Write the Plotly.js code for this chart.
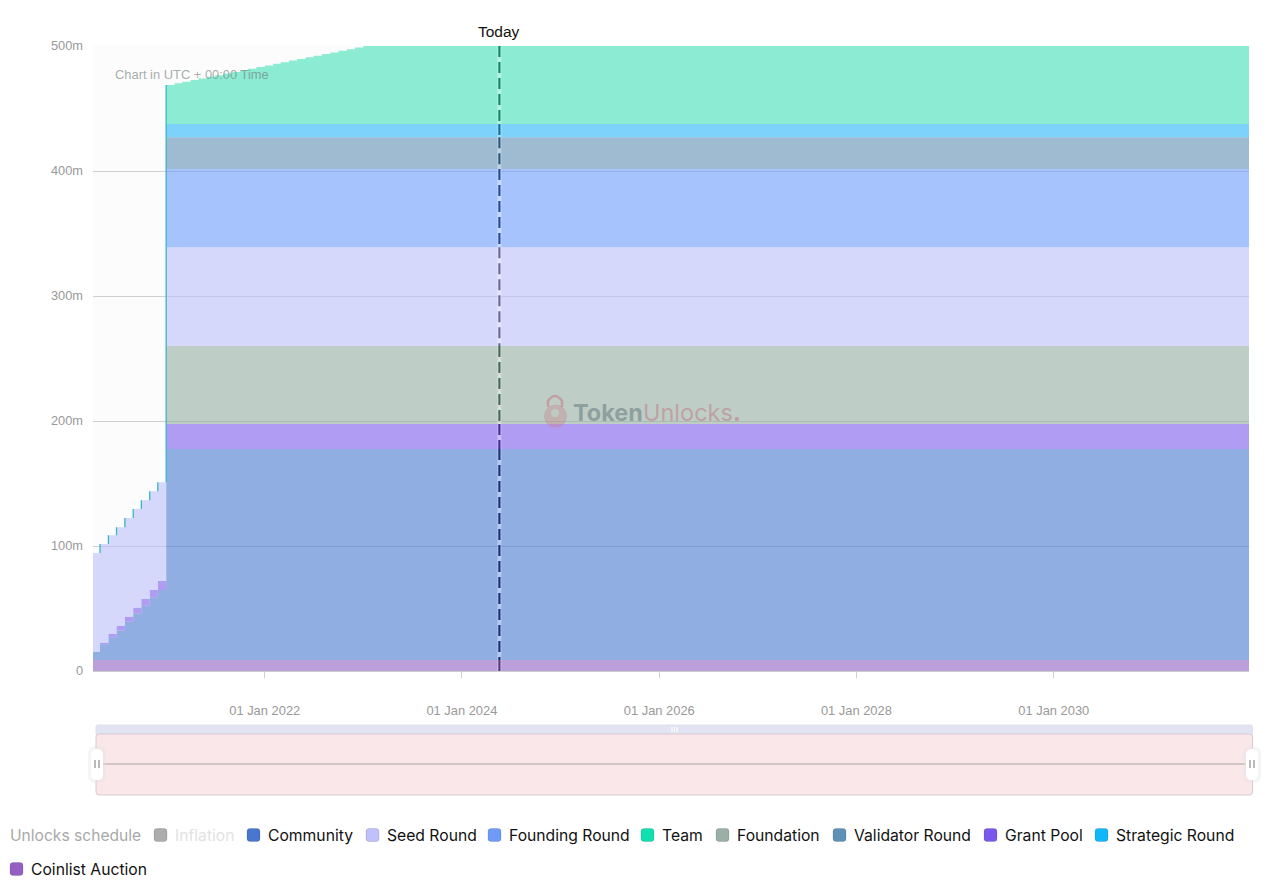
<!DOCTYPE html>
<html>
<head>
<meta charset="utf-8">
<script src="https://cdn.plot.ly/plotly-3.0.1.min.js"></script>
<style>html,body{margin:0;padding:0;background:#fff}#chart{width:1272px;height:888px}</style>
</head>
<body>
<div id="chart"></div>
<script>
const dates = ["2020-04-01","2020-05-01","2020-06-01","2020-07-01","2020-08-01","2020-09-01","2020-10-01","2020-11-01","2020-12-01",
"2021-01-01","2021-02-01","2021-03-01","2021-04-01","2021-05-01","2021-06-01","2021-07-01","2021-08-01","2021-09-01","2021-10-01","2021-11-01","2021-12-01",
"2022-01-01","2022-02-01","2022-03-01","2022-04-01","2022-05-01","2022-06-01","2022-07-01","2022-08-01","2022-09-01","2022-10-01","2022-11-01","2022-12-01",
"2023-01-01","2032-01-01"];

const coinlist = [8.8,8.8,8.8,8.8,8.8,8.8,8.8,8.8,8.8,8.8,8.8,8.8,8.8,8.8,8.8,8.8,8.8,8.8,8.8,8.8,8.8,8.8,8.8,8.8,8.8,8.8,8.8,8.8,8.8,8.8,8.8,8.8,8.8,8.8,8.8];
const community = [6.7,12.6,18.2,23.7,30.7,37.3,43.5,50.2,56,168.8,168.8,168.8,168.8,168.8,168.8,168.8,168.8,168.8,168.8,168.8,168.8,168.8,168.8,168.8,168.8,168.8,168.8,168.8,168.8,168.8,168.8,168.8,168.8,168.8,168.8];
const grantPool = [0,1.3,2.6,3.5,4,4.5,5.3,5.8,7.2,20,20,20,20,20,20,20,20,20,20,20,20,20,20,20,20,20,20,20,20,20,20,20,20,20,20];
const foundation = [0,0,0,0,0,0,0,0,0,62.4,62.4,62.4,62.4,62.4,62.4,62.4,62.4,62.4,62.4,62.4,62.4,62.4,62.4,62.4,62.4,62.4,62.4,62.4,62.4,62.4,62.4,62.4,62.4,62.4,62.4];
const seedRound = [79,79,79,79,79,79,79,79,79,79,79,79,79,79,79,79,79,79,79,79,79,79,79,79,79,79,79,79,79,79,79,79,79,79,79];
const foundingRound = [0,0,0,0,0,0,0,0,0,62.6,62.6,62.6,62.6,62.6,62.6,62.6,62.6,62.6,62.6,62.6,62.6,62.6,62.6,62.6,62.6,62.6,62.6,62.6,62.6,62.6,62.6,62.6,62.6,62.6,62.6];
const validatorRound = [0,0,0,0,0,0,0,0,0,25.4,25.4,25.4,25.4,25.4,25.4,25.4,25.4,25.4,25.4,25.4,25.4,25.4,25.4,25.4,25.4,25.4,25.4,25.4,25.4,25.4,25.4,25.4,25.4,25.4,25.4];
const strategicRound = [0,0,0,0,0,0,0,0,0,10.6,10.6,10.6,10.6,10.6,10.6,10.6,10.6,10.6,10.6,10.6,10.6,10.6,10.6,10.6,10.6,10.6,10.6,10.6,10.6,10.6,10.6,10.6,10.6,10.6,10.6];
const team = [0,0,0,0,0,0,0,0,0,31.3,32.6,33.9,35.2,36.5,37.8,39.1,40.4,41.7,43,44.3,45.6,46.9,48.2,49.5,50.8,52.1,53.4,54.7,56,57.3,58.6,59.9,61.2,62.4,62.4];

const tickDates = ["2022-01-01","2024-01-01","2026-01-01","2028-01-01","2030-01-01"];
const tickLabels = ["01 Jan 2022","01 Jan 2024","01 Jan 2026","01 Jan 2028","01 Jan 2030"];
const yTicks = [0,100,200,300,400,500];
const yLabels = ["0","100m","200m","300m","400m","500m"];
const todayDate = "2024-05-19";

const stackNames = ["Coinlist Auction","Community","Grant Pool","Foundation","Seed Round","Founding Round","Validator Round","Strategic Round","Team"];
const stackValues = [coinlist,community,grantPool,foundation,seedRound,foundingRound,validatorRound,strategicRound,team];
const stackColors = ["#8e61c5","#4a7ad2","#7f5cee","#94afa3","#bbbefa","#6e9cfd","#5f8fb6","#26b6f8","#3fe0b8"];
const lineColors = ["#5a3a80","#1e3278","#46309a","#4a6a5c","#6c6c9c","#2a4c9c","#2f5a80","#14709c","#128a6e"];

const legendNames = ["Inflation","Community","Seed Round","Founding Round","Team","Foundation","Validator Round","Grant Pool","Strategic Round","Coinlist Auction"];
const legendColors = ["#acacac","#4a76d0","#c0c0fa","#6e9bf8","#10e0b0","#9ab0a6","#5f90b6","#7a58ee","#10b8fa","#9460c4"];
const legendLeft = [154,247,366,488,641,716,833,984,1095,10];
const legendRow = [835,835,835,835,835,835,835,835,835,869];

function rgba(hex,a){const n=parseInt(hex.slice(1),16);return `rgba(${n>>16},${(n>>8)&255},${n&255},${a})`;}
const PL=93,PT=46,PW=1156,PH=625;
const px=x=>(x-PL)/PW, py=y=>(PT+PH-y)/PH;

function rr(x0,y0,x1,y1,r){
  const X=px,Y=py,rx=r/PW,ry=r/PH,a=X(x0),b=X(x1),c=Y(y0),d=Y(y1);
  return `M${a+rx},${c} L${b-rx},${c} Q${b},${c} ${b},${c-ry} L${b},${d+ry} Q${b},${d} ${b-rx},${d} L${a+rx},${d} Q${a},${d} ${a},${d+ry} L${a},${c-ry} Q${a},${c} ${a+rx},${c} Z`;
}
function box(x0,y0,x1,y1,r,fill,line,lw){
  return {type:"path",xref:"paper",yref:"paper",path:rr(x0,y0,x1,y1,r),fillcolor:fill,line:{color:line||"rgba(0,0,0,0)",width:lw||0},layer:"above"};
}
function seg(x0,y0,x1,y1,color,w){
  return {type:"line",xref:"paper",yref:"paper",x0:px(x0),x1:px(x1),y0:py(y0),y1:py(y1),line:{color:color,width:w||1},layer:"above"};
}

const traces = stackNames.map((name,i)=>({
  type:"scatter",mode:"lines",name:name,x:dates,y:stackValues[i],
  stackgroup:"unlocks",fill:"tonexty",
  line:{shape:"hv",width:0,color:stackColors[i]},
  fillcolor:rgba(stackColors[i],0.6),
  hoverinfo:"skip",showlegend:false
}));

// teal risers on the cliff and monthly steps, taken from the stacked totals
const riserX=[],riserY=[];
function below(i,top){let s=0;for(let k=0;k<=top;k++)s+=stackValues[k][i];return s;}
for(let i=1;i<=8;i++){riserX.push(dates[i],dates[i],null);riserY.push(below(i-1,4),below(i,4),null);}
riserX.push(dates[9],dates[9]);riserY.push(below(8,4),below(9,8));
traces.push({type:"scatter",mode:"lines",x:riserX,y:riserY,line:{color:"#35b6cc",width:1.3},hoverinfo:"skip",showlegend:false,connectgaps:false});

const shapes=[];
// pale halo behind the Today line
shapes.push({type:"line",xref:"x",yref:"y",x0:todayDate,x1:todayDate,y0:0,y1:500,line:{color:"rgba(255,255,255,0.35)",width:4},layer:"above"});
// Today line, one piece per band so it tints with the fill underneath
let base=0;
stackValues.forEach((s,i)=>{
  const v=s[s.length-1];
  shapes.push({type:"line",xref:"x",yref:"y",x0:todayDate,x1:todayDate,y0:base+v,y1:base,
    line:{color:lineColors[i],width:2.2,dash:"11px,5px"},layer:"above"});
  base+=v;
});

// range slider strip
shapes.push(box(96,725,1252.5,736,2,"#e2e4f4","#dfe1f0",1));
shapes.push(box(96,734,1252.5,795,3,"#fae7ea","#d9c9cd",1));
shapes.push(seg(100,764,1250,764,"#a8a2a4",1));
shapes.push(seg(672,727,672,732,"#ffffff",1),seg(674.5,727,674.5,732,"#ffffff",1),seg(677,727,677,732,"#ffffff",1));
[97,1252].forEach(c=>{
  shapes.push(box(c-9,746,c+9,783,8,"rgba(225,225,225,0.35)"));
  shapes.push(box(c-6,749,c+6,780,6,"#ffffff"));
  shapes.push(seg(c-2,760,c-2,768,"#a8a8a8",1.6),seg(c+2,760,c+2,768,"#a8a8a8",1.6));
});

// watermark padlock
shapes.push({type:"circle",xref:"paper",yref:"paper",x0:px(544.5),x1:px(566.5),y0:py(405),y1:py(427.5),
  fillcolor:"rgba(200,120,130,0.33)",line:{color:"rgba(190,140,170,0.35)",width:1},layer:"above"});
shapes.push({type:"path",xref:"paper",yref:"paper",
  path:`M${px(548)},${py(407)} L${px(548)},${py(401)} Q${px(555)},${py(391)} ${px(562)},${py(401)} L${px(562)},${py(407)}`,
  fillcolor:"rgba(0,0,0,0)",line:{color:"rgba(200,120,130,0.55)",width:2.6},layer:"above"});
shapes.push({type:"circle",xref:"paper",yref:"paper",x0:px(551),x1:px(559),y0:py(409),y1:py(417),
  fillcolor:"rgba(190,205,198,0.9)",line:{width:0},layer:"above"});

// legend swatches
legendNames.forEach((n,i)=>{
  shapes.push(box(legendLeft[i],legendRow[i]-6.5,legendLeft[i]+13,legendRow[i]+6.5,3,legendColors[i],"rgba(0,0,0,0.12)",1));
});

const annotations=[
  {xref:"x",yref:"paper",x:todayDate,y:py(31.5),text:"Today",showarrow:false,xanchor:"center",yanchor:"middle",
    font:{family:"Liberation Sans, Arial, sans-serif",size:15.5,color:"#111"}},
  {xref:"paper",yref:"paper",x:px(113),y:py(74.5),text:"Chart in UTC + 00:00 Time",showarrow:false,xanchor:"left",yanchor:"middle",
    font:{family:"Liberation Sans, Arial, sans-serif",size:12.9,color:"rgba(110,120,120,0.62)"}},
  {xref:"paper",yref:"paper",x:px(571),y:py(413),showarrow:false,xanchor:"left",yanchor:"middle",
    text:'<b><span style="color:rgba(110,130,130,0.62)">Token</span></b><span style="color:rgba(190,135,145,0.65)">Unlocks</span><b><span style="color:rgba(200,130,140,0.7)">.</span></b>',
    font:{family:"Inter, sans-serif",size:23.5,color:"#8a9a9a"}},
  {xref:"paper",yref:"paper",x:px(8),y:py(835),text:"Unlocks schedule",showarrow:false,xanchor:"left",yanchor:"middle",
    font:{family:"Inter, sans-serif",size:15.6,color:"#a9a9a9"}}
];
legendNames.forEach((n,i)=>{
  annotations.push({xref:"paper",yref:"paper",x:px(legendLeft[i]+18.5),y:py(legendRow[i]),text:n,showarrow:false,xanchor:"left",yanchor:"middle",
    font:{family:"Inter, sans-serif",size:15.7,color:i===0?"#e2e2e2":"#111"}});
});

const layout={
  width:1272,height:888,
  margin:{l:PL,r:23,t:PT,b:217,pad:0},
  paper_bgcolor:"#ffffff",plot_bgcolor:"#fcfcfc",
  showlegend:false,
  xaxis:{type:"date",range:["2020-04-05","2031-12-25"],tickmode:"array",tickvals:tickDates,ticktext:tickLabels,
    showgrid:false,zeroline:false,showline:true,linecolor:"#cfcfcf",linewidth:1,ticks:"outside",ticklen:6,tickcolor:"#cfcfcf",
    ticklabelstandoff:22,tickangle:0,
    tickfont:{family:"Liberation Sans, Arial, sans-serif",size:12.9,color:"#999"}},
  yaxis:{range:[0,500],tickmode:"array",tickvals:yTicks,ticktext:yLabels,showgrid:true,gridcolor:"#cfcfcf",gridwidth:1,
    zeroline:false,showline:false,ticks:"",ticklabelstandoff:9,
    tickfont:{family:"Liberation Sans, Arial, sans-serif",size:12.8,color:"#999"}},
  shapes:shapes,annotations:annotations,hovermode:false
};
Plotly.newPlot("chart",traces,layout,{displayModeBar:false,staticPlot:true,responsive:false});
</script>
</body>
</html>
